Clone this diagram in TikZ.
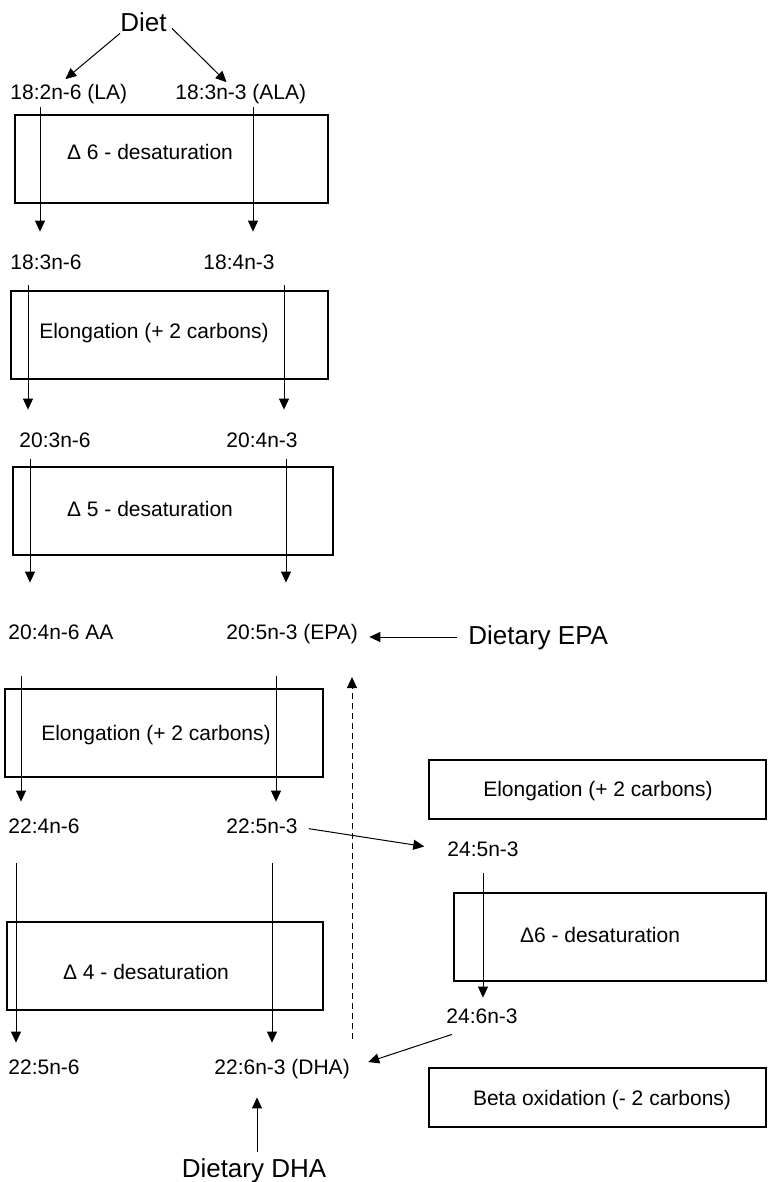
\documentclass[tikz,border=0pt]{standalone}
\usepackage{fontspec}
\setmainfont{Liberation Sans}
\usetikzlibrary{arrows.meta, positioning}
\tikzset{
        >={Triangle[length=5.5pt,width=5pt]}, % filled triangle heads
        x=0.5pt, y=-0.5pt, % one unit is one pixel of the figure, y downwards
        every node/.style={inner sep=0pt, font=\fontsize{10.5}{12}\selectfont,
                           text height=8pt, text depth=2pt}, % plain labels
    }
\tikzstyle{acid}=[anchor=west]
\tikzstyle{dietary}=[font=\fontsize{13}{15}\selectfont, text height=10pt, text depth=3pt]
\tikzstyle{box}=[draw, line width=1pt]
\tikzstyle{conv}=[->, line width=0.5pt]
\tikzstyle{retro}=[->, line width=0.5pt, dash pattern=on 3pt off 2pt]

\begin{document}
\begin{tikzpicture}
    \useasboundingbox (0,0) rectangle (767,1182);
    % sources
    \node[dietary] (diet) at (143.5,25) {Diet};
    \node[dietary, anchor=west] (depa) at (468,637) {Dietary EPA};
    \node[dietary] (ddha) at (254,1170) {Dietary DHA};
    % fatty acids
    \node[acid] (la)   at (10,94)    {18:2n-6 (LA)};
    \node[acid] (ala)  at (175,94)   {18:3n-3 (ALA)};
    \node[acid] (gla)  at (10,264)   {18:3n-6};
    \node[acid] (sda)  at (203,264)  {18:4n-3};
    \node[acid] (dgla) at (19,441)   {20:3n-6};
    \node[acid] (eta)  at (226,441)  {20:4n-3};
    \node[acid] (aa)   at (8,633)    {20:4n-6 AA};
    \node[acid] (epa)  at (226,633)  {20:5n-3 (EPA)};
    \node[acid] (adr)  at (8,827)    {22:4n-6};
    \node[acid] (dpa)  at (226,827)  {22:5n-3};
    \node[acid] (tpa)  at (447,850)  {24:5n-3};
    \node[acid] (tha)  at (446,1017) {24:6n-3};
    \node[acid] (dpan) at (8,1068)   {22:5n-6};
    \node[acid] (dha)  at (214,1068) {22:6n-3 (DHA)};
    % enzyme boxes
    \draw[box] (15,115) rectangle (328,203);
    \node (des6) at (150,154) {Δ 6 - desaturation};
    \draw[box] (11,291) rectangle (328,379);
    \node (elo1) at (154,332) {Elongation (+ 2 carbons)};
    \draw[box] (13,467) rectangle (333,555);
    \node (des5) at (150,510) {Δ 5 - desaturation};
    \draw[box] (5,689) rectangle (323,777);
    \node (elo2) at (156,734) {Elongation (+ 2 carbons)};
    \draw[box] (7,922) rectangle (323,1010);
    \node (des4) at (146,973) {Δ 4 - desaturation};
    \draw[box] (429,760) rectangle (766,819);
    \node (elo3) at (598,790) {Elongation (+ 2 carbons)};
    \draw[box] (454,893) rectangle (766,981);
    \node (des6b) at (600,936) {Δ6 - desaturation};
    \draw[box] (429,1068) rectangle (766,1127);
    \node (beta) at (602,1099) {Beta oxidation (- 2 carbons)};
    % diet
    \draw[conv, shorten >=3.5pt] ([yshift=2.5pt]diet.south west) -- (la.north -| 60,0);
    \draw[conv, shorten >=1pt] ([shift={(2.5pt,5pt)}]diet.south east) -- (ala.north -| 228,0);
    % n-6 series
    \draw[conv, shorten <=1.5pt, shorten >=11pt] (la.south -| 40,0) -- (gla.north -| 40,0);
    \draw[conv, shorten <=5.5pt, shorten >=10.5pt] (gla.south -| 28,0) -- (dgla.north -| 28,0);
    \draw[conv, shorten <=4pt, shorten >=20pt] (dgla.south -| 30,0) -- (aa.north -| 30,0);
    \draw[conv, shorten <=16.5pt, shorten >=7.5pt] (aa.south -| 21,0) -- (adr.north -| 21,0);
    \draw[conv, shorten <=13pt, shorten >=7.5pt] (adr.south -| 16,0) -- (dpan.north -| 16,0);
    % n-3 series
    \draw[conv, shorten <=1.5pt, shorten >=11pt] (ala.south -| 253,0) -- (sda.north -| 253,0);
    \draw[conv, shorten <=5.5pt, shorten >=10.5pt] (sda.south -| 284,0) -- (eta.north -| 284,0);
    \draw[conv, shorten <=4pt, shorten >=20pt] (eta.south -| 286,0) -- (epa.north -| 286,0);
    \draw[conv, shorten <=16.5pt, shorten >=7.5pt] (epa.south -| 276,0) -- (dpa.north -| 276,0);
    \draw[conv, shorten <=13pt, shorten >=7.5pt] (dpa.south -| 272,0) -- (dha.north -| 272,0);
    % side route
    \draw[conv, shorten <=5.5pt, shorten >=11.5pt] (dpa.east) -- (tpa.west);
    \draw[conv, shorten <=6.5pt, shorten >=4.5pt] (tpa.south -| 483,0) -- (tha.north -| 483,0);
    \draw[conv] ([shift={(3pt,-3.5pt)}]tha.south west) -- ([shift={(9pt,3pt)}]dha.east);
    % dietary intake and retroconversion
    \draw[conv, shorten <=5.5pt, shorten >=5.5pt] (depa.west) -- (epa.east |- depa.west);
    \draw[conv, shorten <=2.5pt, shorten >=9.5pt] (ddha.north -| 257,0) -- (dha.south -| 257,0);
    \coordinate (rbot) at (352,1039);
    \coordinate (rtop) at (352,677);
    \draw[retro] (rbot) -- (rtop);
\end{tikzpicture}
\end{document}
